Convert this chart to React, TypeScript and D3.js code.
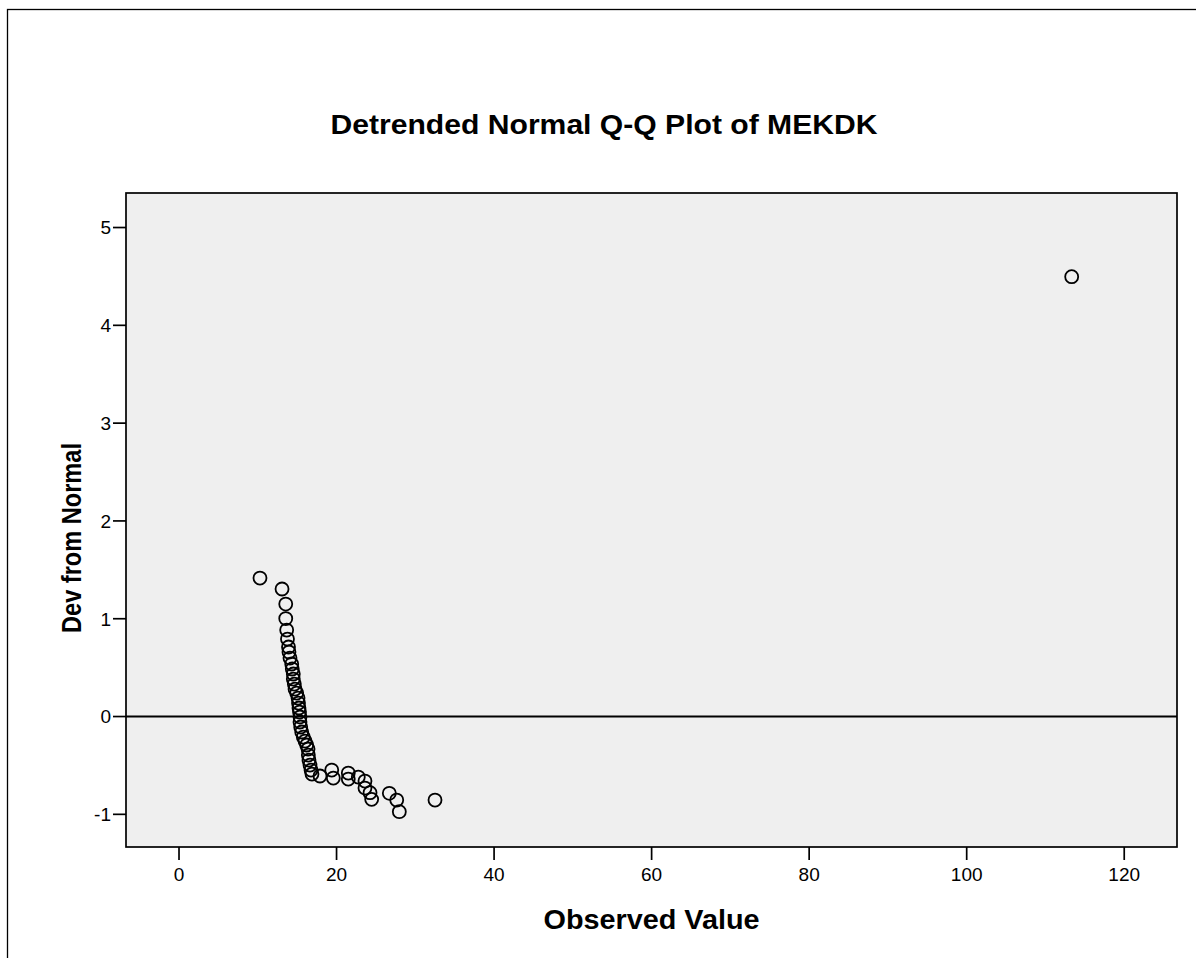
import React from "react";
import * as d3 from "d3";

const observed: number[] = [
  10.28, 13.08, 13.55, 13.55, 13.67, 13.77, 13.9, 13.96, 14.09, 14.31,
  14.38, 14.51, 14.51, 14.64, 14.73, 14.94, 15.11, 15.17, 15.23, 15.3,
  15.36, 15.36, 15.45, 15.58, 15.78, 16.0, 16.21, 16.38, 16.42, 16.5,
  16.63, 16.76, 16.88, 17.9, 19.39, 19.59, 21.49, 21.49, 22.76, 23.61,
  23.61, 24.25, 24.46, 26.7, 27.64, 27.97, 32.5, 113.33,
];
const devFromNormal: number[] = [
  1.416, 1.304, 1.15, 1.002, 0.884, 0.792, 0.711, 0.66, 0.598, 0.537,
  0.486, 0.435, 0.383, 0.332, 0.281, 0.24, 0.189, 0.138, 0.087, 0.046,
  -0.005, -0.056, -0.107, -0.158, -0.21, -0.251, -0.291, -0.332, -0.394, -0.445,
  -0.496, -0.547, -0.588, -0.608, -0.547, -0.629, -0.578, -0.639, -0.619, -0.66,
  -0.731, -0.779, -0.847, -0.785, -0.854, -0.973, -0.854, 4.497,
];
const xTicks: number[] = [0, 20, 40, 60, 80, 100, 120];
const yTicks: number[] = [-1, 0, 1, 2, 3, 4, 5];
const title = "Detrended Normal Q-Q Plot of MEKDK";
const xLabel = "Observed Value";
const yLabel = "Dev from Normal";

const W = 1196;
const H = 958;
const plot = { left: 126, right: 1177, top: 193, bottom: 847 };
const FONT = "'Liberation Sans', Arial, Helvetica, sans-serif";

export default function App() {
  const x = d3.scaleLinear().domain([-6.73, 126.7]).range([plot.left, plot.right]);
  const y = d3.scaleLinear().domain([-1.334, 5.353]).range([plot.bottom, plot.top]);
  const cx = (plot.left + plot.right) / 2;
  return (
    <svg
      width={W}
      height={H}
      style={{ position: "absolute", left: 0, top: 0, background: "#fff" }}
      fontFamily={FONT}
    >
      <rect x={7.5} y={9.5} width={1300} height={1100} fill="#fff" stroke="#000" strokeWidth={1.3} />
      <text
        x={604}
        y={134}
        textAnchor="middle"
        fontSize={28}
        fontWeight="bold"
        textLength={547}
        lengthAdjust="spacingAndGlyphs"
      >
        {title}
      </text>
      <rect
        x={plot.left}
        y={plot.top}
        width={plot.right - plot.left}
        height={plot.bottom - plot.top}
        fill="#efefef"
        stroke="none"
      />
      <line x1={plot.left} x2={plot.right} y1={y(0)} y2={y(0)} stroke="#000" strokeWidth={2} />
      {observed.map((v, i) => (
        <circle
          key={i}
          cx={x(v)}
          cy={y(devFromNormal[i])}
          r={6.5}
          fill="none"
          stroke="#000"
          strokeWidth={1.8}
        />
      ))}
      <rect
        x={plot.left}
        y={plot.top}
        width={plot.right - plot.left}
        height={plot.bottom - plot.top}
        fill="none"
        stroke="#000"
        strokeWidth={1.7}
      />
      {xTicks.map((t) => (
        <g key={"x" + t}>
          <line x1={x(t)} x2={x(t)} y1={plot.bottom} y2={plot.bottom + 13} stroke="#000" strokeWidth={1.7} />
          <text x={x(t)} y={plot.bottom + 34} textAnchor="middle" fontSize={19}>
            {t}
          </text>
        </g>
      ))}
      {yTicks.map((t) => (
        <g key={"y" + t}>
          <line x1={plot.left - 13} x2={plot.left} y1={y(t)} y2={y(t)} stroke="#000" strokeWidth={1.7} />
          <text x={plot.left - 15} y={y(t)} dy="0.36em" textAnchor="end" fontSize={19}>
            {t}
          </text>
        </g>
      ))}
      <text
        x={cx}
        y={929}
        textAnchor="middle"
        fontSize={27}
        fontWeight="bold"
        textLength={216}
        lengthAdjust="spacingAndGlyphs"
      >
        {xLabel}
      </text>
      <text
        transform={`translate(81,538) rotate(-90)`}
        textAnchor="middle"
        fontSize={27}
        fontWeight="bold"
        textLength={190}
        lengthAdjust="spacingAndGlyphs"
      >
        {yLabel}
      </text>
    </svg>
  );
}
